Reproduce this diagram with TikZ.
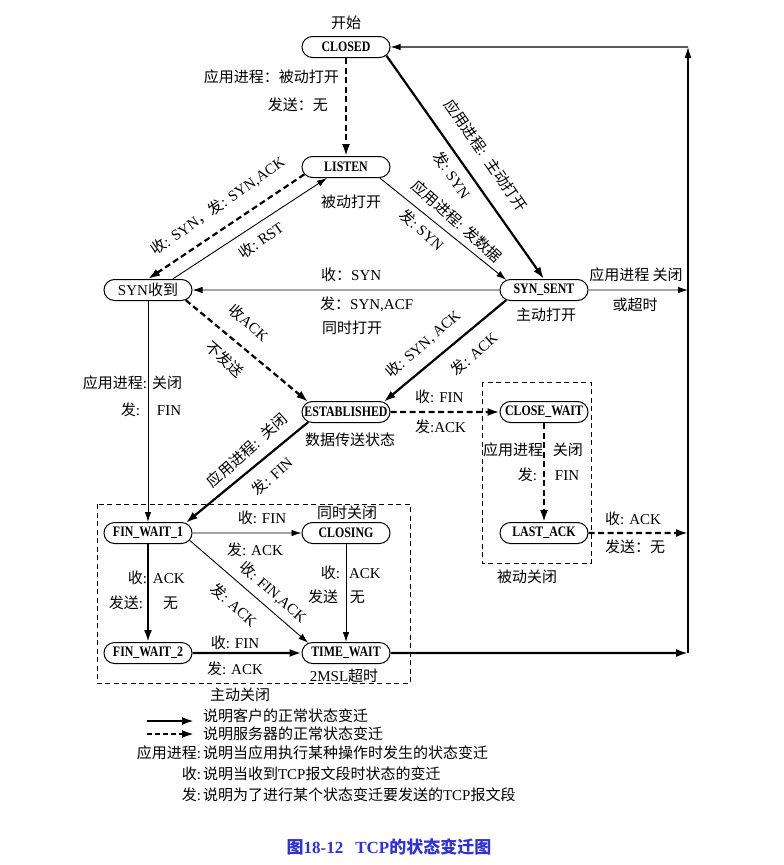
\documentclass[tikz,border=0pt]{standalone}
\usepackage{fontspec}
\setmainfont{Liberation Serif}
\newfontfamily\cjk{Noto Sans CJK SC}
\newfontfamily\nodefont{Liberation Serif}[FakeStretch=0.82]
\usetikzlibrary{arrows.meta,shapes.misc}
\newcommand\zh[1]{{\cjk #1}}
\newcommand\lr[4]{\makebox[0pt][r]{#1\hspace{#3}}\makebox[0pt][l]{\hspace{#4}#2}}
\definecolor{capblue}{RGB}{50,50,205}
\begin{document}
\begin{tikzpicture}[x=1pt,y=-1pt,
  state/.style={rounded rectangle, draw, line width=1pt, minimum width=72pt,
    minimum height=21pt, inner xsep=-8pt, inner ysep=1pt,
    font=\nodefont\bfseries\fontsize{14.5}{15}\selectfont},
  lbl/.style={font=\fontsize{15}{17}\selectfont, inner sep=0pt},
  thk/.style={line width=2.2pt, -{Latex[length=12pt,width=8pt]}},
  thn/.style={line width=0.9pt, -{Latex[length=10pt,width=6.5pt]}},
  dsh/.style={thk, dash pattern=on 6pt off 3.5pt},
  box/.style={line width=0.9pt, dash pattern=on 5pt off 3.5pt},
]
\useasboundingbox (0,0) rectangle (784,865);

% states
\node[state] (closed) at (346,47) {CLOSED};
\node[state] (listen) at (346,167) {LISTEN};
\node[state, font=\fontsize{15}{17}\selectfont] (synr) at (148,290) {SYN\zh{收到}};
\node[state] (synsent) at (544,290) {SYN\_SENT};
\node[state] (est) at (346,412) {ESTABLISHED};
\node[state] (cw) at (544,412) {CLOSE\_WAIT};
\node[state] (la) at (544,533) {LAST\_ACK};
\node[state] (fw1) at (148,533) {FIN\_WAIT\_1};
\node[state] (closing) at (346,533) {CLOSING};
\node[state] (fw2) at (148,653) {FIN\_WAIT\_2};
\node[state] (tw) at (346,653) {TIME\_WAIT};

\coordinate (rb) at (688,653);
\coordinate (rt) at (688,47);
\coordinate (rs) at (688,290);
\coordinate (rl) at (688,533);

% dashed boxes
\draw[box] (97,504) rectangle (410,683);
\draw[box] (482,382) rectangle (591,563);

% connectors
\draw[dsh] (closed) -- (listen);
\draw[thk] (closed.-12) -- (synsent.north);
\draw[thn] (listen.-18) -- (synsent.165);
\draw[dsh] (listen.190) -- (synr.north);
\draw[thn] (synr.24) -- (listen.210);
\draw[thn] (synsent) -- (synr);
\draw[thn] (synsent) -- (rs);
\draw[dsh] (synr.-15) -- (est.165);
\draw[thk] (synsent.195) -- (est.15);
\draw[thn] (synr) -- (fw1);
\draw[thk] (est.195) -- (fw1.15);
\draw[dsh] (est) -- (cw);
\draw[dsh] (cw) -- (la);
\draw[dsh] (la) -- (rl);
\draw[thn] (fw1) -- (closing);
\draw[thn] (fw1.-10) -- (tw.165);
\draw[thk] (fw1) -- (fw2);
\draw[thn] (closing) -- (tw);
\draw[thk] (fw2) -- (tw);
\draw[thk] (tw) -- (rb);
\draw[line width=1.3pt, -{Latex[length=11pt,width=7pt]}] (rb) -- (rt);
\draw[line width=1.1pt, -{Latex[length=10pt,width=6.5pt]}] (rt) -- (closed);

% upright labels
\node[lbl] (t0) at (346,23) {\zh{开始}};
\node[lbl, anchor=east] (t1) at (339,77) {\zh{应用进程：被动打开}};
\node[lbl, anchor=east] (t2) at (328,105) {\zh{发送：无}};
\node[lbl] (t3) at (351,202) {\zh{被动打开}};
\node[lbl, anchor=west] (t4) at (321,275) {\zh{收：}SYN};
\node[lbl, anchor=west] (t5) at (320,304) {\zh{发：}SYN,ACF};
\node[lbl, anchor=west] (t6) at (322,328) {\zh{同时打开}};
\node[lbl] (t7) at (636,275) {\zh{应用进程 关闭}};
\node[lbl] (t8) at (635,305) {\zh{或超时}};
\node[lbl] (t9) at (546,315) {\zh{主动打开}};
\node[lbl] (t10) at (148,383) {\lr{\zh{应用进程}:}{\zh{关闭}}{1pt}{4pt}};
\node[lbl] (t11) at (148,410) {\lr{\zh{发}:}{FIN}{8pt}{9pt}};
\node[lbl] (t12) at (350,440) {\zh{数据传送状态}};
\node[lbl, anchor=west] (t13) at (415,397) {\zh{收}: FIN};
\node[lbl, anchor=west] (t14) at (415,427) {\zh{发}:ACK};
\node[lbl] (t15) at (545,450) {\lr{\zh{应用进程}}{\zh{关闭}}{2pt}{8pt}};
\node[lbl] (t16) at (545,475) {\lr{\zh{发}:}{FIN}{8pt}{10pt}};
\node[lbl, anchor=west] (t17) at (605,519) {\zh{收}: ACK};
\node[lbl, anchor=west] (t18) at (605,547) {\zh{发送：无}};
\node[lbl] (t19) at (527,577) {\zh{被动关闭}};
\node[lbl] (t20) at (347,513) {\zh{同时关闭}};
\node[lbl] (t21) at (262,518) {\zh{收}: FIN};
\node[lbl] (t22) at (255,550) {\zh{发}: ACK};
\node[lbl] (t23) at (148,578) {\lr{\zh{收}:}{ACK}{1pt}{5pt}};
\node[lbl] (t24) at (148,603) {\lr{\zh{发送}:}{\zh{无}}{5pt}{15pt}};
\node[lbl] (t25) at (347,573) {\lr{\zh{收}:}{ACK}{7pt}{2pt}};
\node[lbl] (t26) at (347,597) {\lr{\zh{发送}}{\zh{无}}{9pt}{3pt}};
\node[lbl] (t27) at (235,643) {\zh{收}: FIN};
\node[lbl] (t28) at (235,669) {\zh{发}: ACK};
\node[lbl] (t29) at (344,676) {2MSL\zh{超时}};
\node[lbl] (t30) at (240,695) {\zh{主动关闭}};

% sloped labels
\node[lbl, rotate=-55.4] (s1) at (486,155) {\zh{应用进程}:\ \ \zh{主动打开}};
\node[lbl, rotate=-55.4] (s2) at (452,175) {\zh{发}:\ SYN};
\node[lbl, rotate=-41.9] (s3) at (457,221) {\zh{应用进程}: \zh{发数据}};
\node[lbl, rotate=-41.9] (s4) at (422,230) {\zh{发}:\ SYN};
\node[lbl, rotate=35] (s5) at (218,206) {\zh{收}: SYN\zh{，发}: SYN,ACK};
\node[lbl, rotate=35] (s6) at (261,240) {\zh{收}:\ RST};
\node[lbl, rotate=-41.8] (s7) at (249,323) {\zh{收}ACK};
\node[lbl, rotate=-41.8] (s8) at (225,359) {\zh{不发送}};
\node[lbl, rotate=41.4] (s9) at (423,344) {\zh{收}: SYN, ACK};
\node[lbl, rotate=41.4] (s10) at (474,354) {\zh{发}: ACK};
\node[lbl, rotate=41.8] (s11) at (247,450) {\zh{应用进程}:\ \ \zh{关闭}};
\node[lbl, rotate=41.8] (s12) at (272,476) {\zh{发}: FIN};
\node[lbl, rotate=-41.6] (s13) at (273,592) {\zh{收}: FIN,ACK};
\node[lbl, rotate=-41.6] (s14) at (234,605) {\zh{发}: ACK};

% legend
\coordinate (lg1a) at (147,721);
\coordinate (lg1b) at (194,721);
\coordinate (lg2a) at (147,734);
\coordinate (lg2b) at (194,734);
\draw[thk] (lg1a) -- (lg1b);
\draw[dsh, dash pattern=on 5pt off 3pt] (lg2a) -- (lg2b);
\node[lbl, anchor=west] (g1) at (203,716) {\zh{说明客户的正常状态变迁}};
\node[lbl, anchor=west] (g2) at (203,734) {\zh{说明服务器的正常状态变迁}};
\node[lbl] (g3) at (201,753) {\lr{\zh{应用进程}:}{\zh{说明当应用执行某种操作时发生的状态变迁}}{0pt}{2pt}};
\node[lbl] (g4) at (201,774) {\lr{\zh{收}:}{\zh{说明当收到}TCP\zh{报文段时状态的变迁}}{0pt}{2pt}};
\node[lbl] (g5) at (201,795) {\lr{\zh{发}:}{\zh{说明为了进行某个状态变迁要发送的}TCP\zh{报文段}}{0pt}{2pt}};

% caption
\node[lbl, text=capblue, font=\bfseries\fontsize{17}{19}\selectfont] (cap) at (389,847) {\zh{图}18-12\hspace{12pt}TCP\zh{的状态变迁图}};
\end{tikzpicture}
\end{document}
